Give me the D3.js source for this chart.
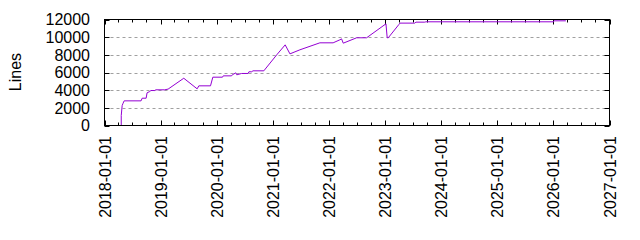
<!DOCTYPE html>
<html>
<head>
<meta charset="utf-8">
<script src="https://cdn.jsdelivr.net/npm/d3@7"></script>
<style>
  body { margin: 0; background: #fff; }
  svg { display: block; }
  text { font-family: "Liberation Sans", Arial, sans-serif; font-size: 16px; fill: #000; }
</style>
</head>
<body>
<svg id="chart" width="640" height="240"></svg>
<script>
// line count over time
var dates = [
  '2018-04-20', '2018-04-20', '2018-04-26', '2018-05-02', '2018-05-09',
  '2018-08-27', '2018-09-03', '2018-09-29', '2018-10-05', '2018-10-23',
  '2018-10-30', '2018-11-24', '2018-12-01', '2019-01-28', '2019-02-19',
  '2019-06-01', '2019-08-27', '2019-09-07', '2019-11-22', '2019-12-07',
  '2020-02-08', '2020-02-13', '2020-04-07', '2020-04-12', '2020-05-05',
  '2020-05-11', '2020-06-11', '2020-07-24', '2020-07-29', '2020-08-17',
  '2020-08-24', '2020-11-03', '2021-01-26', '2021-03-22', '2021-04-22',
  '2021-06-26', '2021-11-03', '2022-01-28', '2022-03-13', '2022-03-24',
  '2022-04-04', '2022-06-30', '2022-09-03', '2023-01-07', '2023-01-15',
  '2023-01-22', '2023-04-01', '2023-04-08', '2023-07-14', '2023-07-21',
  '2023-09-17', '2023-09-24', '2026-01-01', '2026-01-05', '2026-03-23'
];
var lines = [
  0, 1130, 2260, 2520, 2790,
  2790, 3090, 3090, 3700, 3850,
  3960, 3960, 4040, 4040, 4120,
  5350, 4150, 4490, 4490, 5470,
  5470, 5620, 5620, 5740, 5960,
  5740, 5890, 5890, 6080, 6080,
  6190, 6190, 8000, 9130, 8110,
  8570, 9360, 9360, 9700, 9810,
  9320, 9930, 9930, 11510, 9930,
  9930, 11430, 11590, 11590, 11700,
  11700, 11740, 11740, 11850, 11850
];
var yTicks = [0, 2000, 4000, 6000, 8000, 10000, 12000];
var xDomain = ['2018-01-01', '2027-01-01'];

var parse = d3.timeParse('%Y-%m-%d');
var data = dates.map(function(d, i) { return { date: parse(d), value: lines[i] }; });

var svg = d3.select('#chart');
var plotL = 104.5, plotR = 609.5, plotT = 19.5, plotB = 125.5;

var x = d3.scaleTime().domain(xDomain.map(parse)).range([plotL, plotR]);
var y = d3.scaleLinear().domain([0, 12000]).range([plotB, plotT]);

// horizontal grid
svg.append('g').selectAll('line')
  .data(yTicks.filter(function(t) { return t > 0 && t < 12000; }))
  .enter().append('line')
  .attr('x1', plotL).attr('x2', plotR)
  .attr('y1', function(d) { return Math.round(y(d)) + 0.5; })
  .attr('y2', function(d) { return Math.round(y(d)) + 0.5; })
  .attr('stroke', '#a0a0a0')
  .attr('stroke-width', 1)
  .attr('stroke-dasharray', '3,3');

// x ticks (years major, quarters minor), bottom and top, pointing inward
var majors = x.ticks(d3.timeYear.every(1));
var minors = x.ticks(d3.timeMonth.every(3)).filter(function(d) { return d.getMonth() !== 0; });
var tickG = svg.append('g').attr('stroke', '#000').attr('stroke-width', 1);
function xTick(list, len) {
  list.forEach(function(d) {
    var px = Math.round(x(d)) + 0.5;
    tickG.append('line').attr('x1', px).attr('x2', px).attr('y1', plotB).attr('y2', plotB - len);
    tickG.append('line').attr('x1', px).attr('x2', px).attr('y1', plotT).attr('y2', plotT + len);
  });
}
xTick(majors, 5);
xTick(minors, 3);
yTicks.forEach(function(t) {
  var py = Math.round(y(t)) + 0.5;
  tickG.append('line').attr('x1', plotL).attr('x2', plotL + 5).attr('y1', py).attr('y2', py);
  tickG.append('line').attr('x1', plotR).attr('x2', plotR - 5).attr('y1', py).attr('y2', py);
});

// data line
svg.append('path')
  .datum(data)
  .attr('fill', 'none')
  .attr('stroke', '#9400d3')
  .attr('stroke-width', 1)
  .attr('d', d3.line()
    .x(function(d) { return x(d.date); })
    .y(function(d) { return y(d.value); }));

// border
svg.append('rect')
  .attr('x', plotL).attr('y', plotT)
  .attr('width', plotR - plotL).attr('height', plotB - plotT)
  .attr('fill', 'none').attr('stroke', '#000').attr('stroke-width', 1);

// y labels
svg.append('g').selectAll('text')
  .data(yTicks)
  .enter().append('text')
  .attr('x', 90)
  .attr('y', function(d) { return y(d); })
  .attr('dy', '0.36em')
  .attr('text-anchor', 'end')
  .text(function(d) { return d; });

// x labels, rotated
var fmt = d3.timeFormat('%Y-%m-%d');
svg.append('g').selectAll('text')
  .data(majors)
  .enter().append('text')
  .attr('transform', function(d) { return 'translate(' + (x(d) + 6) + ',136) rotate(-90)'; })
  .attr('text-anchor', 'end')
  .text(function(d) { return fmt(d); });

// axis title
svg.append('text')
  .attr('transform', 'translate(21,72) rotate(-90)')
  .attr('text-anchor', 'middle')
  .text('Lines');
</script>
</body>
</html>
